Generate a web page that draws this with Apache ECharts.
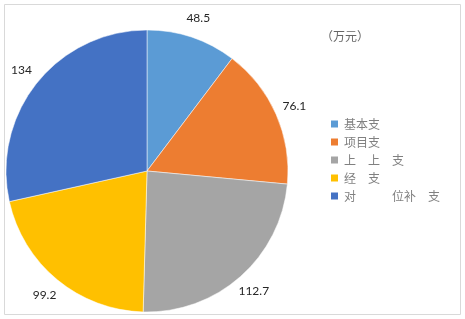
<!DOCTYPE html>
<html>
<head>
<meta charset="utf-8">
<script src="https://cdn.jsdelivr.net/npm/echarts@6/dist/echarts.min.js"></script>
<style>
  html, body { margin: 0; padding: 0; background: #fff; }
  #main { width: 465px; height: 319px; }
</style>
</head>
<body>
<div id="main"></div>
<script>
// 图表数据
var categories = ['基本支', '项目支', '上　上　支', '经　支', '对　　　位补　支'];
var values = [48.5, 76.1, 112.7, 99.2, 134];
var colors = ['#5B9BD5', '#ED7D31', '#A5A5A5', '#FFC000', '#4472C4'];
var unitText = '（万元）';

var myChart = echarts.init(document.getElementById('main'));

var option = {
    animation: false,
    color: colors,
    graphic: [{
        type: 'rect',
        shape: { x: 4.5, y: 4.5, width: 456, height: 310 },
        style: { fill: 'none', stroke: '#d9d9d9', lineWidth: 1 }
    }],
    title: {
        text: unitText,
        left: 316,
        top: 25,
        textStyle: {
            fontSize: 12,
            fontWeight: 'normal',
            color: '#666',
            fontFamily: 'Noto Sans CJK SC'
        }
    },
    legend: {
        orient: 'vertical',
        left: 324,
        top: 113,
        itemWidth: 9,
        itemHeight: 9,
        itemGap: 6,
        icon: 'rect',
        textStyle: {
            fontSize: 12,
            color: '#808080',
            fontFamily: 'Noto Sans CJK SC'
        },
        data: categories
    },
    series: [{
        type: 'pie',
        center: [147, 171],
        radius: 141,
        startAngle: 90,
        clockwise: true,
        itemStyle: { borderColor: '#fff', borderWidth: 0.5 },
        label: {
            position: 'outside',
            formatter: '{c}',
            fontSize: 12,
            color: '#262626',
            fontFamily: 'Lato',
            width: 40,
            overflow: 'none'
        },
        labelLine: { show: true, length: 20, length2: 0, lineStyle: { opacity: 0 } },
        // 标签中心放在引导线末端
        labelLayout: function (params) {
            var pts = params.labelLinePoints;
            if (!pts) return {};
            return {
                x: pts[1][0],
                y: pts[1][1],
                align: 'center',
                verticalAlign: 'middle'
            };
        },
        data: categories.map(function (name, i) {
            return { name: name, value: values[i] };
        })
    }]
};

myChart.setOption(option);
</script>
</body>
</html>
